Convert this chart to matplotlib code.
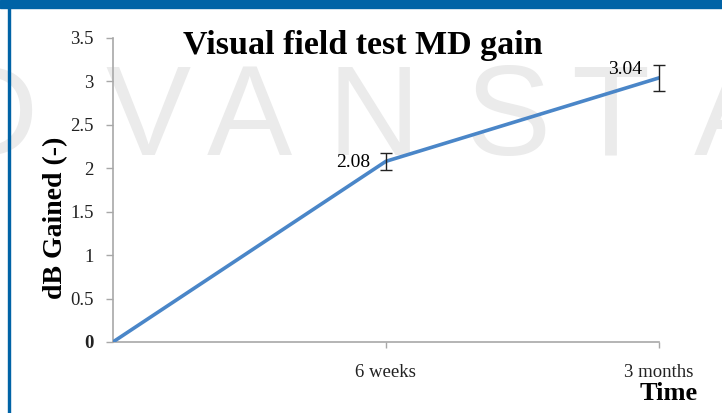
import matplotlib.pyplot as plt
from matplotlib.patches import Rectangle

x = [0, 1, 2]
gain = [0, 2.08, 3.04]
err = [0, 0.1, 0.15]
tick_labels = ["6 weeks", "3 months"]
watermark = [("D", -0.012), ("V", 0.205), ("A", 0.346), ("N", 0.517), ("S", 0.703), ("T", 0.845), ("A", 1.02)]

fig = plt.figure(figsize=(7.22, 4.13), dpi=100)

# frame bits
fig.patches.append(Rectangle((0, 0.98), 1, 0.02, transform=fig.transFigure, color="#0063a6", zorder=0))
fig.patches.append(Rectangle((0.011, 0), 0.003, 1, transform=fig.transFigure, color="#0063a6", zorder=0))

# watermark behind everything
for ch, xp in watermark:
    fig.text(xp, 0.738, ch, fontsize=92, family="Liberation Sans", color="#ebebeb",
             ha="center", va="center_baseline", zorder=-1)

serif = "Liberation Serif"
ax = fig.add_axes([0.1565, 0.172, 0.756, 0.736])
ax.set_zorder(1)
ax.patch.set_alpha(0)
ax.plot(x, gain, color="#4a86c8", lw=2.6, zorder=3)
ax.errorbar(x[1:], gain[1:], yerr=err[1:], fmt="none", ecolor="#222222",
            elinewidth=1, capsize=4, capthick=1, zorder=4, clip_on=False)

ax.annotate("2.08", (x[1], gain[1]), xytext=(-11, -1), textcoords="offset points",
            ha="right", va="center", fontsize=14, family=serif)
ax.annotate("3.04", (x[2], gain[2]), xytext=(-12, 6), textcoords="offset points",
            ha="right", va="center", fontsize=14, family=serif)

ax.set_xlim(0, 2)
ax.set_ylim(0, 3.5)
ax.set_xticks([1, 2])
ax.set_xticklabels(tick_labels, family=serif, fontsize=13.5)
ax.set_yticks([0, 0.5, 1, 1.5, 2, 2.5, 3, 3.5])
ax.set_yticklabels(["0", "0.5", "1", "1.5", "2", "2.5", "3", "3.5"], family=serif, fontsize=13.5)
ax.get_yticklabels()[0].set_fontweight("bold")
ax.tick_params(axis="y", length=5, width=1, color="#a8a8a8", pad=9, labelcolor="#222222")
ax.tick_params(axis="x", length=4, width=1, color="#a8a8a8", pad=12, labelcolor="#222222")
for s in ["top", "right"]:
    ax.spines[s].set_visible(False)
for s in ["left", "bottom"]:
    ax.spines[s].set_color("#a8a8a8")
    ax.spines[s].set_linewidth(1.2)

ax.set_ylabel("dB Gained (-)", family=serif, fontsize=20, fontweight="bold")
ax.yaxis.set_label_coords(-0.106, 0.408)
ax.yaxis.label.set_va("center")
ax.yaxis.label.set_ha("center")
fig.text(0.967, 0.048, "Time", family=serif, fontsize=19, fontweight="bold",
         ha="right", va="center")
fig.text(0.503, 0.89, "Visual field test MD gain", family=serif, fontsize=24.5,
         fontweight="bold", ha="center", va="center")

fig.savefig("out.png", dpi=100)
